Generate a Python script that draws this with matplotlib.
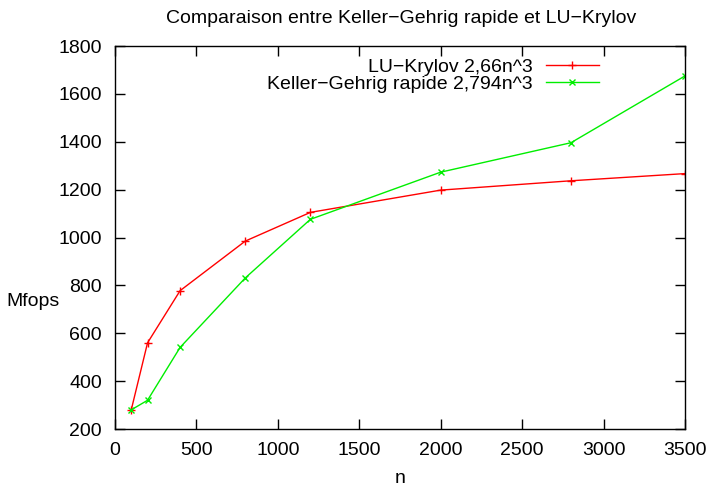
import matplotlib
matplotlib.use("Agg")
import matplotlib.pyplot as plt

plt.rcParams['font.family'] = ['Liberation Sans', 'DejaVu Sans']

n = [100, 200, 400, 800, 1200, 2000, 2800, 3500]
lu_krylov = [280, 560, 778, 985, 1105, 1198, 1237, 1267]
keller_gehrig = [280, 320, 541, 831, 1076, 1273, 1396, 1675]

xticks = [0, 500, 1000, 1500, 2000, 2500, 3000, 3500]
yticks = [200, 400, 600, 800, 1000, 1200, 1400, 1600, 1800]

fig = plt.figure(figsize=(7.11, 4.88), dpi=100)
ax = fig.add_axes([0.1617, 0.1209, 0.8017, 0.7848])

ax.plot(n, lu_krylov, color='#ff0000', lw=1, marker='+', ms=6, mew=1,
        label='LU\u2212Krylov 2,66n^3')
ax.plot(n, keller_gehrig, color='#00ee00', lw=1, marker='x', ms=5, mew=1,
        label='Keller\u2212Gehrig rapide 2,794n^3')

ax.set_xlim(0, 3500)
ax.set_ylim(200, 1800)
ax.set_xticks(xticks)
ax.set_yticks(yticks)
ax.tick_params(direction='in', length=7, width=1, top=True, right=True,
               labelsize=14, pad=9.5)
for s in ax.spines.values():
    s.set_linewidth(1)

# gnuplot-like label placement: "n" below, "Mfops" horizontal on the left
ax.set_xlabel('n', fontsize=14)
ax.xaxis.set_label_coords(0.5, -0.128)
ax.xaxis.label.set_va('center')
ax.set_ylabel('Mfops', fontsize=14, rotation=0)
ax.yaxis.set_label_coords(-0.144, 0.332)
ax.yaxis.label.set_va('center')
ax.yaxis.label.set_ha('center')
fig.text(0.5647, 0.963, 'Comparaison entre Keller\u2212Gehrig rapide et LU\u2212Krylov',
         fontsize=14, ha='center', va='center')

ax.legend(loc='upper right', frameon=False, markerfirst=False, fontsize=14,
          handlelength=2.73, handletextpad=0.67, labelspacing=0.0,
          borderpad=0, borderaxespad=0, bbox_to_anchor=(0.849, 0.969))

fig.savefig('out.png', dpi=100)
